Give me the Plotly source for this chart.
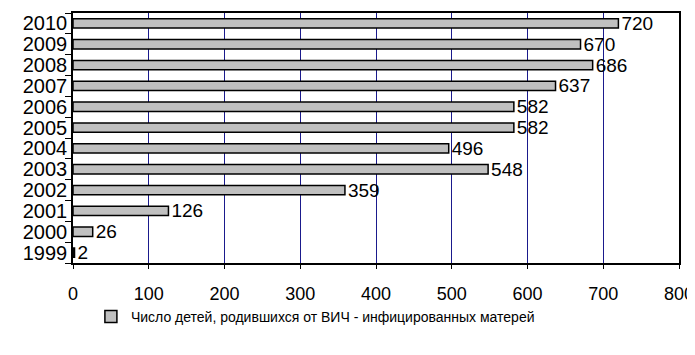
import plotly.graph_objects as go

years = ["1999", "2000", "2001", "2002", "2003", "2004", "2005", "2006", "2007", "2008", "2009", "2010"]
values = [2, 26, 126, 359, 548, 496, 582, 582, 637, 686, 670, 720]
x_ticks = [0, 100, 200, 300, 400, 500, 600, 700, 800]
series_name = "Число детей, родившихся от ВИЧ - инфицированных матерей"

fig = go.Figure()
fig.add_trace(go.Bar(
    y=years, x=values, orientation="h", name=series_name,
    marker=dict(color="#C0C0C0", line=dict(color="#000000", width=1.5)),
    width=0.45,
    text=[str(v) for v in values], textposition="outside", constraintext="none",
    textfont=dict(family="Liberation Sans, Arial", size=19, color="#000000"),
    cliponaxis=False,
))

fig.update_layout(
    width=687, height=339,
    margin=dict(l=65, r=16, t=5, b=84, autoexpand=False),
    paper_bgcolor="white", plot_bgcolor="white",
    font=dict(family="Liberation Sans, Arial", color="#000000"),
    showlegend=True,
    legend=dict(orientation="h", x=0.4, xanchor="center", y=-0.216, yanchor="middle",
                font=dict(size=14), itemwidth=30, bgcolor="rgba(0,0,0,0)"),
    bargap=0.55,
)
fig.update_xaxes(
    range=[0, 800], tickvals=x_ticks, ticktext=[str(t) for t in x_ticks],
    showgrid=True, gridcolor="#1a1a8c", gridwidth=1,
    showline=True, linecolor="#000000", linewidth=1.5, mirror=True,
    ticks="outside", ticklen=4, tickcolor="#000000",
    tickfont=dict(size=18), ticklabelstandoff=10, zeroline=False,
    automargin=False,
)
fig.update_yaxes(
    categoryorder="array", categoryarray=years,
    tickmode="array", tickvals=years, ticktext=years,
    showline=True, linecolor="#000000", linewidth=1.5, mirror=True,
    ticks="outside", tickson="boundaries", ticklen=6, tickcolor="#000000",
    tickfont=dict(size=20), showgrid=False, automargin=False,
)

fig.write_html("out.html")
